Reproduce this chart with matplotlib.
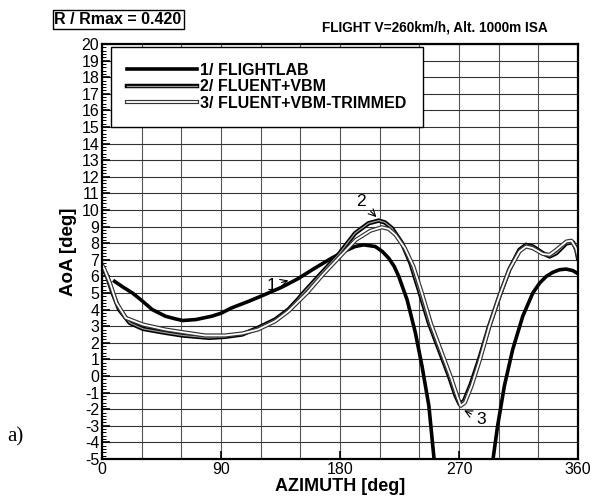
import matplotlib
matplotlib.use("Agg")
from matplotlib import pyplot as plt
from matplotlib import patheffects as pe
from matplotlib.ticker import MultipleLocator

plt.rcParams['font.family'] = ['Liberation Sans', 'DejaVu Sans']
plt.rcParams['axes.unicode_minus'] = False

# 1/ FLIGHTLAB  (dips below -5 between ~252 and ~296 deg, clipped by the axes)
az1 = [9.5, 16, 23, 30, 38, 48, 55, 61, 71, 83, 90, 98, 111, 123, 136, 148, 160, 173.7, 183,
       191.4, 197.8, 206.6, 212, 216.8, 221, 224.4, 230.7, 237, 242, 247.2, 251, 255, 262, 275,
       288, 292, 295.9, 299.2, 304.3, 310.6, 318.2, 325.8, 331, 336, 341, 346, 351, 356, 360]
aoa1 = [5.7, 5.35, 5.0, 4.55, 4.0, 3.6, 3.45, 3.34, 3.4, 3.6, 3.78, 4.1, 4.5, 4.9, 5.35, 5.85, 6.45, 7.1, 7.5,
        7.8, 7.9, 7.8, 7.5, 7.1, 6.6, 6.0, 4.6, 2.6, 0.6, -1.8, -4.9, -7.0, -10.0, -12.0,
        -10.0, -7.0, -4.9, -3.0, -0.6, 1.6, 3.6, 5.0, 5.6, 6.0, 6.25, 6.4, 6.44, 6.35, 6.16]

# 2/ FLUENT+VBM
az2 = [0, 3, 8, 13, 21, 31, 48, 61, 81, 93, 106, 118, 131, 141, 148, 153.4, 166, 178.7, 191.4,
       201.6, 209.2, 214, 219.3, 226.9, 233.3, 239.6, 247.2, 254.8, 262.4, 267.5, 270.5, 273.8,
       278.9, 285.2, 292.8, 300.5, 308, 315.7, 320.7, 325.8, 333.4, 338.5, 343.6, 351.2, 356.3,
       358.8, 360]
aoa2 = [6.4, 6.2, 5.0, 4.0, 3.2, 2.84, 2.6, 2.44, 2.3, 2.36, 2.5, 2.9, 3.4, 4.0, 4.6, 5.1, 6.2, 7.3, 8.6,
        9.2, 9.36, 9.25, 8.9, 8.0, 6.8, 5.2, 3.2, 1.6, 0.0, -1.2, -1.7, -1.5,
        -0.5, 1.0, 3.0, 4.8, 6.4, 7.6, 7.9, 7.8, 7.4, 7.2, 7.4, 8.0, 8.04,
        7.6, 7.1]

# 3/ FLUENT+VBM-TRIMMED
az3 = [0, 2, 6, 11, 18, 31, 48, 61, 78, 93, 106, 118, 131, 141, 148, 155, 167, 180, 192, 203,
       211.7, 217, 222, 229, 235.5, 241.5, 249, 256.5, 264, 269, 271.3, 274.5, 279.5, 285.5, 293,
       300.5, 308, 315.7, 320.7, 325.8, 333.4, 338.5, 343.6, 351.2, 355, 358.5, 360]
aoa3 = [6.7, 6.4, 5.6, 4.4, 3.5, 3.1, 2.8, 2.64, 2.44, 2.44, 2.56, 2.8, 3.3, 3.9, 4.45, 5.0, 6.1, 7.2, 8.2, 8.75,
        8.96, 8.85, 8.5, 7.7, 6.6, 5.1, 3.1, 1.5, -0.1, -1.3, -1.8, -1.6, -0.6, 0.9, 3.0,
        4.8, 6.4, 7.5, 7.8, 7.7, 7.35, 7.3, 7.6, 8.1, 8.15, 7.7, 7.2]

labels = ["1/ FLIGHTLAB", "2/ FLUENT+VBM", "3/ FLUENT+VBM-TRIMMED"]

fig = plt.figure(figsize=(5.92, 4.97), dpi=100)
ax = fig.add_axes([0.1723, 0.0765, 0.8041, 0.835])

ax.plot(az1, aoa1, color='black', lw=2.6, label=labels[0], solid_joinstyle='round')
ax.plot(az2, aoa2, color='#999999', lw=0.9, label=labels[1],
        path_effects=[pe.Stroke(linewidth=3.2, foreground='black'), pe.Normal()])
ax.plot(az3, aoa3, color='white', lw=1.3, label=labels[2],
        path_effects=[pe.Stroke(linewidth=3.0, foreground='#333333'), pe.Normal()])

ax.set_xlim(0, 360)
ax.set_ylim(-5, 20)
ax.xaxis.set_major_locator(MultipleLocator(90))
ax.xaxis.set_minor_locator(MultipleLocator(30))
ax.yaxis.set_major_locator(MultipleLocator(1))
ax.yaxis.set_minor_locator(MultipleLocator(0.2))
ax.grid(True, which='major', axis='y', color='#333333', lw=0.8)
ax.grid(True, which='both', axis='x', color='#555555', lw=0.8)
ax.tick_params(axis='both', which='major', direction='in', labelsize=11.5, length=6, width=1.2, pad=2)
ax.tick_params(axis='y', which='minor', direction='in', length=3, width=0.7)
ax.tick_params(axis='x', which='minor', length=0)
for s in ax.spines.values():
    s.set_linewidth(1.6)

ax.set_xlabel("AZIMUTH [deg]", fontsize=13, fontweight='bold', labelpad=1)
ax.set_ylabel("AoA [deg]", fontsize=13.5, fontweight='bold', labelpad=3)

leg = ax.legend(loc='upper left', bbox_to_anchor=(0.019, 0.993), fancybox=False,
                edgecolor='black', framealpha=1, handlelength=4.4, handletextpad=0.2,
                borderpad=1.0, labelspacing=0.1, borderaxespad=0,
                prop={'weight': 'bold', 'size': 11.5})
leg.get_frame().set_linewidth(1.0)

# curve labels
ax.annotate("1", xy=(143, 5.8), xytext=(128, 5.45), fontsize=12.5, va='center', ha='center',
            arrowprops=dict(arrowstyle='->', lw=0.8, color='black'))
ax.annotate("2", xy=(209, 9.45), xytext=(196, 10.5), fontsize=12.5, va='center', ha='center',
            arrowprops=dict(arrowstyle='->', lw=0.8, color='black'))
ax.annotate("3", xy=(272, -2.0), xytext=(287, -2.6), fontsize=12.5, va='center', ha='center',
            arrowprops=dict(arrowstyle='->', lw=0.8, color='black'))

fig.text(0.092, 0.96, "R / Rmax = 0.420", fontsize=11.5, fontweight='bold', va='center', ha='left',
         bbox=dict(boxstyle='square,pad=0.12', fc='white', ec='black', lw=1.0))
fig.text(0.735, 0.945, "FLIGHT V=260km/h, Alt. 1000m ISA", fontsize=9.8, fontweight='bold',
         va='center', ha='center')
fig.text(0.012, 0.121, "a)", fontsize=15, family='Liberation Serif', va='center', ha='left')

fig.savefig("out.png", dpi=100)
